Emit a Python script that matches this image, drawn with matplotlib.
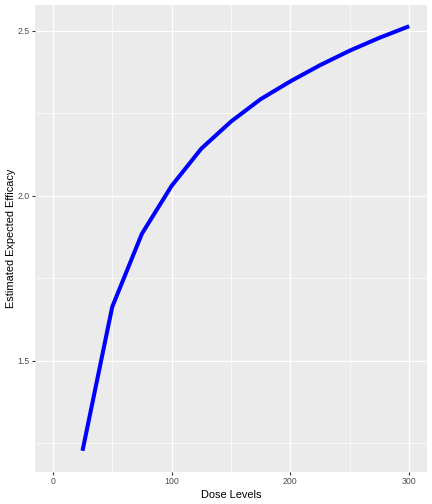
import matplotlib
matplotlib.use("Agg")
import matplotlib.pyplot as plt
from matplotlib.ticker import MultipleLocator

dose = [25, 50, 75, 100, 125, 150, 175, 200, 225, 250, 275, 300]
efficacy = [1.227, 1.663, 1.885, 2.030, 2.143, 2.225, 2.293, 2.347, 2.396, 2.440, 2.479, 2.514]
x_ticks = [0, 100, 200, 300]
y_ticks = [1.5, 2.0, 2.5]

plt.rcParams['font.family'] = ['Liberation Sans', 'DejaVu Sans']

fig = plt.figure(figsize=(4.32, 5.04), dpi=100)
ax = fig.add_axes([35/432, 32/504, (427-35)/432, (472-5)/504])
ax.set_facecolor('#EBEBEB')
for s in ax.spines.values():
    s.set_visible(False)

ax.plot(dose, efficacy, color='#0000FF', linewidth=2.9, solid_capstyle='butt', zorder=3)

ax.set_xlim(-15, 315)
ymin, ymax = min(efficacy), max(efficacy)
pad = (ymax - ymin) * 0.05
ax.set_ylim(ymin - pad, ymax + pad)

ax.set_xticks(x_ticks)
ax.set_xticklabels([str(v) for v in x_ticks])
ax.set_yticks(y_ticks)
ax.set_yticklabels([f"{v:.1f}" for v in y_ticks])
ax.xaxis.set_minor_locator(MultipleLocator(50))
ax.yaxis.set_minor_locator(MultipleLocator(0.25))

ax.grid(which='major', color='white', linewidth=0.9)
ax.grid(which='minor', color='white', linewidth=0.45)
ax.set_axisbelow(True)

ax.tick_params(which='major', length=2.2, width=0.8, color='#333333',
               labelcolor='#4D4D4D', labelsize=6.3, pad=1.5)
ax.tick_params(which='minor', length=0)

ax.set_xlabel('Dose Levels', fontsize=7.9, color='black', labelpad=3)
ax.set_ylabel('Estimated Expected Efficacy', fontsize=7.9, color='black', labelpad=1)

fig.savefig('out.png', dpi=100, facecolor='white')
